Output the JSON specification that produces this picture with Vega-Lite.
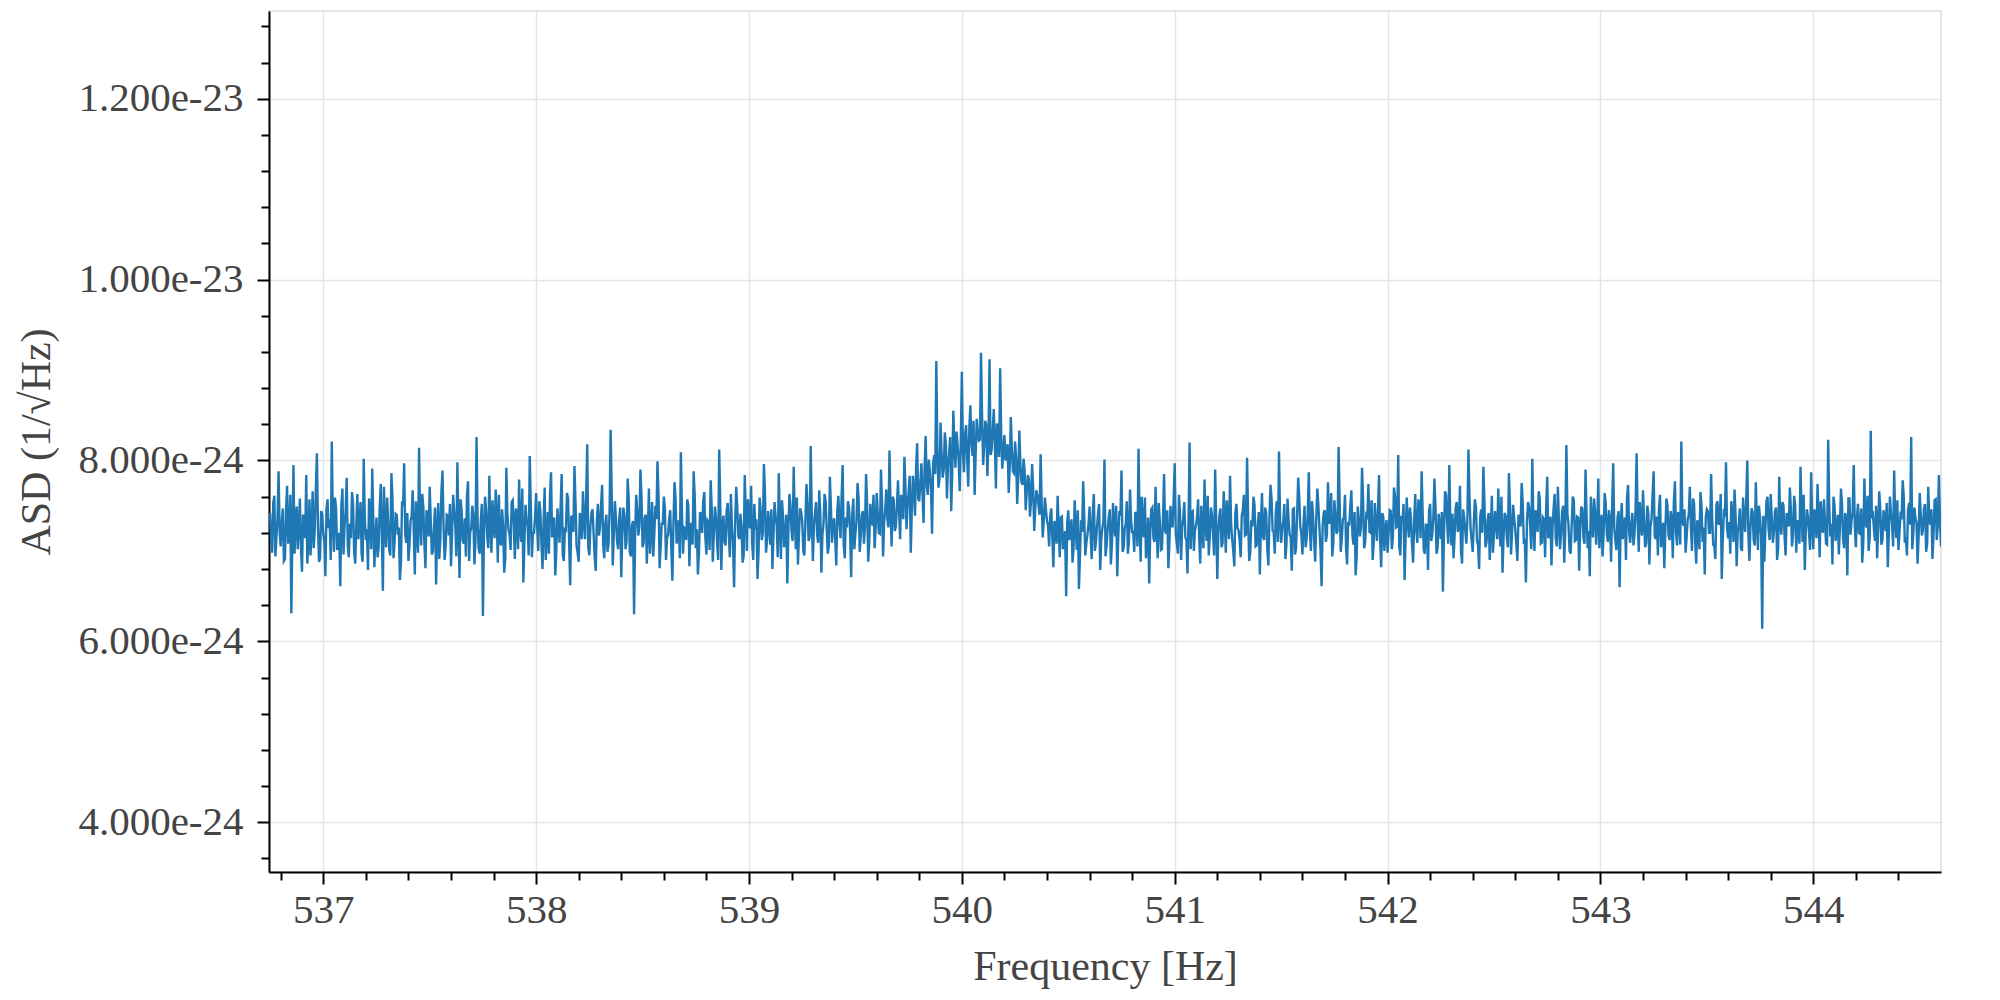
{
  "$schema": "https://vega.github.io/schema/vega-lite/v6.json",
  "width": 1672,
  "height": 861,
  "autosize": "none",
  "padding": {"left": 269, "top": 11, "right": 59, "bottom": 128},
  "background": "white",
  "data": {
    "values": "f,a\n536.75,7.42\n536.76,6.98\n536.77,7.61\n536.78,7.15\n536.79,7.88\n536.80,7.05\n536.81,7.47\n536.82,6.91\n536.83,7.72\n536.84,7.26\n536.85,6.31\n536.86,7.95\n536.87,7.31\n536.88,7.02\n536.89,7.58\n536.90,6.77\n536.91,7.39\n536.92,7.84\n536.93,7.11\n536.94,6.95\n536.95,7.66\n536.96,7.23\n536.97,8.08\n536.98,6.88\n536.99,7.44\n537.00,7.19\n537.01,6.72\n537.02,7.57\n537.03,7.35\n537.04,8.21\n537.05,6.99\n537.06,7.48\n537.07,7.07\n537.08,6.61\n537.09,7.69\n537.10,7.28\n537.11,7.81\n537.12,6.93\n537.13,7.14\n537.14,7.52\n537.15,6.86\n537.16,7.63\n537.17,7.33\n537.18,6.97\n537.19,8.02\n537.20,7.12\n537.21,6.79\n537.22,7.45\n537.23,7.91\n537.24,6.82\n537.25,7.37\n537.26,7.04\n537.27,7.74\n537.28,6.56\n537.29,7.27\n537.30,7.59\n537.31,7.01\n537.32,7.86\n537.33,6.92\n537.34,7.41\n537.35,7.18\n537.36,6.68\n537.37,7.55\n537.38,7.97\n537.39,7.09\n537.40,6.89\n537.41,7.33\n537.42,7.67\n537.43,6.74\n537.44,7.22\n537.45,8.14\n537.46,7.06\n537.47,7.49\n537.48,6.81\n537.49,7.36\n537.50,7.71\n537.51,6.96\n537.52,7.25\n537.53,6.63\n537.54,7.53\n537.55,7.13\n537.56,7.89\n537.57,6.90\n537.58,7.40\n537.59,7.17\n537.60,6.83\n537.61,7.62\n537.62,7.29\n537.63,7.98\n537.64,6.70\n537.65,7.44\n537.66,7.08\n537.67,6.94\n537.68,7.77\n537.69,7.21\n537.70,7.50\n537.71,6.85\n537.72,8.26\n537.73,7.03\n537.74,7.34\n537.75,6.28\n537.76,7.60\n537.77,7.16\n537.78,7.83\n537.79,6.98\n537.80,7.30\n537.81,7.68\n537.82,6.87\n537.83,7.12\n537.84,7.46\n537.85,6.76\n537.86,7.92\n537.87,7.24\n537.88,7.01\n537.89,7.56\n537.90,6.91\n537.91,7.38\n537.92,7.79\n537.93,7.10\n537.94,6.65\n537.95,7.51\n537.96,7.27\n537.97,8.05\n537.98,6.93\n537.99,7.20\n538.00,7.64\n538.01,7.00\n538.02,7.43\n538.03,6.80\n538.04,7.70\n538.05,7.15\n538.06,6.97\n538.07,7.87\n538.08,7.32\n538.09,6.73\n538.10,7.47\n538.11,7.09\n538.12,7.85\n538.13,6.89\n538.14,7.23\n538.15,7.58\n538.16,6.62\n538.17,7.36\n538.18,7.94\n538.19,7.05\n538.20,6.88\n538.21,7.31\n538.22,7.66\n538.23,7.13\n538.24,8.18\n538.25,6.95\n538.26,7.42\n538.27,7.19\n538.28,6.78\n538.29,7.52\n538.30,7.26\n538.31,7.73\n538.32,6.92\n538.33,7.40\n538.34,7.07\n538.35,8.34\n538.36,6.84\n538.37,7.55\n538.38,7.11\n538.39,7.35\n538.40,6.71\n538.41,7.48\n538.42,7.02\n538.43,7.80\n538.44,6.99\n538.45,7.28\n538.46,6.30\n538.47,7.62\n538.48,7.17\n538.49,7.90\n538.50,7.04\n538.51,7.37\n538.52,6.86\n538.53,7.69\n538.54,7.22\n538.55,6.94\n538.56,7.50\n538.57,7.99\n538.58,6.81\n538.59,7.30\n538.60,7.60\n538.61,6.90\n538.62,7.18\n538.63,7.45\n538.64,6.67\n538.65,7.76\n538.66,7.08\n538.67,7.34\n538.68,8.09\n538.69,6.97\n538.70,7.25\n538.71,7.57\n538.72,6.83\n538.73,7.14\n538.74,7.88\n538.75,7.03\n538.76,6.74\n538.77,7.43\n538.78,7.20\n538.79,7.65\n538.80,6.96\n538.81,7.32\n538.82,7.78\n538.83,6.88\n538.84,7.49\n538.85,7.10\n538.86,8.12\n538.87,6.79\n538.88,7.39\n538.89,7.06\n538.90,7.53\n538.91,6.93\n538.92,7.27\n538.93,6.60\n538.94,7.71\n538.95,7.16\n538.96,7.41\n538.97,6.87\n538.98,7.84\n538.99,7.00\n539.00,7.35\n539.01,7.72\n539.02,6.90\n539.03,7.24\n539.04,6.69\n539.05,7.59\n539.06,7.12\n539.07,7.96\n539.08,6.98\n539.09,7.44\n539.10,7.07\n539.11,6.80\n539.12,7.54\n539.13,7.29\n539.14,7.86\n539.15,6.91\n539.16,7.38\n539.17,7.15\n539.18,6.64\n539.19,7.63\n539.20,7.21\n539.21,7.93\n539.22,7.02\n539.23,6.85\n539.24,7.47\n539.25,7.33\n539.26,6.95\n539.27,7.74\n539.28,7.11\n539.29,8.16\n539.30,6.89\n539.31,7.42\n539.32,7.18\n539.33,7.67\n539.34,6.76\n539.35,7.30\n539.36,7.55\n539.37,6.97\n539.38,7.82\n539.39,7.09\n539.40,7.36\n539.41,6.84\n539.42,7.61\n539.43,7.14\n539.44,7.95\n539.45,6.92\n539.46,7.26\n539.47,7.48\n539.48,6.71\n539.49,7.58\n539.50,7.19\n539.51,7.75\n539.52,6.99\n539.53,7.40\n539.54,7.08\n539.55,7.85\n539.56,6.88\n539.57,7.52\n539.58,7.28\n539.59,7.03\n539.60,7.64\n539.61,7.20\n539.62,7.90\n539.63,6.94\n539.64,7.46\n539.65,7.35\n539.66,8.11\n539.67,7.05\n539.68,7.57\n539.69,7.27\n539.70,7.78\n539.71,7.13\n539.72,7.50\n539.73,8.04\n539.74,7.24\n539.75,7.66\n539.76,6.98\n539.77,7.83\n539.78,7.39\n539.79,8.19\n539.80,7.55\n539.81,7.97\n539.82,7.31\n539.83,8.27\n539.84,7.62\n539.85,7.88\n539.86,7.19\n539.87,8.06\n539.88,9.10\n539.89,7.70\n539.90,8.42\n539.91,7.81\n539.92,8.31\n539.93,7.58\n539.94,8.08\n539.95,7.44\n539.96,8.55\n539.97,7.92\n539.98,8.17\n539.99,7.66\n540.00,8.98\n540.01,7.87\n540.02,8.39\n540.03,7.71\n540.04,8.61\n540.05,8.05\n540.06,7.62\n540.07,8.46\n540.08,8.22\n540.09,9.19\n540.10,7.95\n540.11,8.44\n540.12,7.83\n540.13,9.12\n540.14,8.12\n540.15,8.57\n540.16,7.69\n540.17,8.35\n540.18,9.02\n540.19,7.91\n540.20,8.28\n540.21,8.09\n540.22,7.64\n540.23,8.48\n540.24,7.88\n540.25,8.21\n540.26,7.52\n540.27,8.33\n540.28,7.76\n540.29,8.02\n540.30,7.45\n540.31,7.84\n540.32,7.38\n540.33,7.96\n540.34,7.22\n540.35,7.67\n540.36,7.51\n540.37,8.07\n540.38,7.15\n540.39,7.59\n540.40,7.33\n540.41,7.05\n540.42,7.47\n540.43,6.82\n540.44,7.29\n540.45,7.61\n540.46,6.93\n540.47,7.38\n540.48,7.12\n540.49,6.50\n540.50,7.45\n540.51,7.22\n540.52,6.87\n540.53,7.56\n540.54,7.01\n540.55,6.58\n540.56,7.34\n540.57,7.77\n540.58,6.95\n540.59,7.18\n540.60,7.49\n540.61,6.91\n540.62,7.63\n540.63,7.10\n540.64,7.42\n540.65,6.79\n540.66,7.25\n540.67,8.01\n540.68,7.06\n540.69,7.37\n540.70,6.85\n540.71,7.53\n540.72,7.16\n540.73,6.72\n540.74,7.44\n540.75,7.89\n540.76,7.03\n540.77,7.30\n540.78,6.97\n540.79,7.68\n540.80,7.21\n540.81,6.99\n540.82,7.40\n540.83,8.13\n540.84,6.88\n540.85,7.27\n540.86,7.59\n540.87,7.07\n540.88,6.64\n540.89,7.46\n540.90,7.14\n540.91,7.71\n540.92,6.92\n540.93,7.33\n540.94,7.02\n540.95,7.85\n540.96,7.19\n540.97,6.81\n540.98,7.50\n540.99,7.26\n541.00,7.97\n541.01,7.08\n541.02,7.62\n541.03,6.90\n541.04,7.36\n541.05,7.15\n541.06,6.75\n541.07,8.20\n541.08,7.43\n541.09,7.00\n541.10,7.28\n541.11,7.57\n541.12,6.86\n541.13,7.24\n541.14,7.79\n541.15,7.11\n541.16,6.95\n541.17,7.48\n541.18,7.20\n541.19,7.90\n541.20,6.69\n541.21,7.39\n541.22,7.04\n541.23,7.66\n541.24,6.98\n541.25,7.31\n541.26,7.83\n541.27,7.13\n541.28,6.83\n541.29,7.52\n541.30,7.23\n541.31,6.93\n541.32,7.45\n541.33,7.17\n541.34,8.03\n541.35,6.89\n541.36,7.34\n541.37,7.60\n541.38,7.05\n541.39,7.29\n541.40,6.74\n541.41,7.64\n541.42,7.12\n541.43,7.41\n541.44,6.84\n541.45,7.73\n541.46,7.22\n541.47,6.97\n541.48,7.55\n541.49,8.10\n541.50,7.09\n541.51,7.32\n541.52,6.91\n541.53,7.58\n541.54,7.18\n541.55,6.78\n541.56,7.47\n541.57,7.03\n541.58,7.81\n541.59,7.27\n541.60,6.96\n541.61,7.50\n541.62,7.14\n541.63,7.87\n541.64,7.00\n541.65,7.38\n541.66,6.88\n541.67,7.69\n541.68,7.25\n541.69,6.61\n541.70,7.42\n541.71,7.10\n541.72,7.76\n541.73,7.31\n541.74,6.94\n541.75,7.56\n541.76,7.19\n541.77,8.15\n541.78,6.99\n541.79,7.35\n541.80,7.62\n541.81,6.85\n541.82,7.28\n541.83,7.67\n541.84,7.07\n541.85,6.73\n541.86,7.49\n541.87,7.16\n541.88,7.92\n541.89,7.03\n541.90,7.40\n541.91,7.74\n541.92,7.20\n541.93,6.90\n541.94,7.53\n541.95,7.11\n541.96,7.84\n541.97,6.82\n541.98,7.37\n541.99,7.24\n542.00,6.98\n542.01,7.45\n542.02,7.02\n542.03,7.70\n542.04,7.26\n542.05,8.06\n542.06,6.95\n542.07,7.33\n542.08,6.68\n542.09,7.59\n542.10,7.15\n542.11,7.36\n542.12,6.87\n542.13,7.63\n542.14,7.09\n542.15,7.44\n542.16,7.88\n542.17,7.01\n542.18,7.29\n542.19,6.79\n542.20,7.52\n542.21,7.18\n542.22,7.80\n542.23,6.97\n542.24,7.41\n542.25,7.13\n542.26,6.55\n542.27,7.66\n542.28,7.30\n542.29,7.95\n542.30,7.06\n542.31,6.92\n542.32,7.48\n542.33,7.21\n542.34,7.72\n542.35,6.86\n542.36,7.37\n542.37,7.08\n542.38,8.12\n542.39,7.25\n542.40,6.99\n542.41,7.57\n542.42,7.12\n542.43,6.80\n542.44,7.46\n542.45,7.93\n542.46,7.04\n542.47,7.34\n542.48,6.90\n542.49,7.61\n542.50,7.19\n542.51,7.30\n542.52,7.69\n542.53,7.05\n542.54,6.76\n542.55,7.42\n542.56,7.16\n542.57,7.86\n542.58,6.96\n542.59,7.51\n542.60,7.23\n542.61,6.89\n542.62,7.35\n542.63,7.75\n542.64,7.10\n542.65,6.65\n542.66,7.54\n542.67,7.27\n542.68,8.02\n542.69,7.00\n542.70,7.40\n542.71,7.66\n542.72,7.08\n542.73,7.37\n542.74,6.93\n542.75,7.82\n542.76,7.20\n542.77,6.84\n542.78,7.47\n542.79,7.14\n542.80,7.71\n542.81,7.02\n542.82,7.43\n542.83,6.87\n542.84,8.17\n542.85,7.29\n542.86,6.97\n542.87,7.60\n542.88,7.11\n542.89,7.38\n542.90,6.78\n542.91,7.49\n542.92,7.15\n542.93,7.90\n542.94,7.03\n542.95,6.72\n542.96,7.33\n542.97,7.58\n542.98,7.07\n542.99,7.80\n543.00,7.24\n543.01,6.94\n543.02,7.64\n543.03,7.19\n543.04,7.45\n543.05,6.88\n543.06,7.97\n543.07,7.12\n543.08,7.36\n543.09,6.60\n543.10,7.53\n543.11,7.26\n543.12,6.90\n543.13,7.73\n543.14,7.09\n543.15,7.42\n543.16,7.18\n543.17,8.08\n543.18,6.99\n543.19,7.31\n543.20,7.67\n543.21,7.04\n543.22,7.50\n543.23,6.85\n543.24,7.35\n543.25,7.88\n543.26,7.13\n543.27,6.95\n543.28,7.62\n543.29,7.22\n543.30,6.81\n543.31,7.58\n543.32,7.17\n543.33,7.44\n543.34,6.92\n543.35,7.77\n543.36,7.06\n543.37,7.39\n543.38,8.21\n543.39,7.28\n543.40,6.98\n543.41,7.35\n543.42,7.71\n543.43,7.00\n543.44,7.52\n543.45,6.86\n543.46,7.27\n543.47,7.65\n543.48,7.10\n543.49,6.74\n543.50,7.46\n543.51,7.20\n543.52,7.85\n543.53,7.07\n543.54,6.91\n543.55,7.55\n543.56,7.32\n543.57,6.69\n543.58,7.43\n543.59,7.98\n543.60,7.14\n543.61,6.97\n543.62,7.40\n543.63,7.68\n543.64,6.83\n543.65,7.29\n543.66,7.03\n543.67,7.59\n543.68,7.21\n543.69,8.00\n543.70,6.89\n543.71,7.47\n543.72,7.12\n543.73,7.76\n543.74,7.01\n543.75,7.36\n543.76,6.14\n543.77,6.88\n543.78,7.55\n543.79,7.24\n543.80,7.63\n543.81,7.09\n543.82,7.44\n543.83,6.90\n543.84,7.82\n543.85,7.18\n543.86,7.50\n543.87,6.95\n543.88,7.33\n543.89,7.70\n543.90,7.05\n543.91,7.61\n543.92,6.98\n543.93,7.27\n543.94,7.93\n543.95,7.10\n543.96,6.79\n543.97,7.46\n543.98,7.20\n543.99,7.87\n544.00,7.02\n544.01,7.38\n544.02,7.74\n544.03,6.93\n544.04,7.30\n544.05,7.57\n544.06,7.08\n544.07,8.23\n544.08,7.16\n544.09,6.85\n544.10,7.49\n544.11,7.25\n544.12,6.96\n544.13,7.69\n544.14,7.13\n544.15,7.42\n544.16,6.73\n544.17,7.58\n544.18,7.34\n544.19,7.95\n544.20,7.04\n544.21,7.52\n544.22,7.19\n544.23,6.87\n544.24,7.80\n544.25,7.26\n544.26,7.00\n544.27,8.33\n544.28,7.41\n544.29,7.11\n544.30,6.92\n544.31,7.66\n544.32,7.07\n544.33,7.45\n544.34,7.22\n544.35,6.82\n544.36,7.60\n544.37,7.31\n544.38,7.89\n544.39,7.14\n544.40,7.01\n544.41,7.40\n544.42,7.78\n544.43,7.09\n544.44,6.95\n544.45,7.53\n544.46,8.26\n544.47,7.20\n544.48,7.36\n544.49,6.86\n544.50,7.64\n544.51,7.17\n544.52,7.47\n544.53,6.99\n544.54,7.71\n544.55,7.29\n544.56,6.91\n544.57,7.56\n544.58,7.12\n544.59,7.84\n544.60,7.05\n536.755,7.12\n536.765,7.53\n536.775,6.94\n536.785,7.36\n536.795,7.21\n536.805,7.31\n536.815,6.89\n536.825,7.44\n536.835,7.08\n536.845,7.62\n536.855,7.17\n536.865,6.97\n536.875,7.49\n536.885,7.26\n536.895,7.05\n536.905,7.39\n536.915,7.14\n536.925,6.86\n536.935,7.57\n536.945,7.22\n536.955,7.03\n536.965,7.68\n536.975,7.29\n536.985,6.92\n536.995,7.41\n537.005,7.10\n537.015,7.46\n537.025,7.25\n537.035,6.90\n537.045,7.33\n537.055,7.59\n537.065,7.01\n537.075,7.20\n537.085,7.51\n537.095,6.96\n537.105,7.43\n537.115,7.06\n537.125,7.30\n537.135,7.65\n537.145,6.99\n537.155,7.27\n537.165,7.13\n537.175,7.54\n537.185,6.88\n537.195,7.37\n537.205,7.24\n537.215,7.58\n537.225,7.02\n537.235,7.35\n537.245,7.15\n537.255,6.93\n537.265,7.47\n537.275,7.19\n537.285,7.71\n537.295,7.04\n537.305,7.32\n537.315,6.95\n537.325,7.60\n537.335,7.11\n537.345,7.40\n537.355,7.26\n537.365,6.87\n537.375,7.50\n537.385,7.18\n537.395,7.42\n537.405,7.07\n537.415,7.38\n537.425,7.23\n537.435,7.55\n537.445,6.98\n537.455,7.31\n537.465,7.63\n537.475,7.09\n537.485,7.45\n537.495,7.16\n537.505,7.34\n537.515,7.00\n537.525,7.48\n537.535,7.21\n537.545,6.91\n537.555,7.66\n537.565,7.28\n537.575,7.05\n537.585,7.39\n537.595,7.52\n537.605,7.19\n537.615,7.44\n537.625,6.94\n537.635,7.30\n537.645,7.57\n537.655,7.12\n537.665,7.36\n537.675,7.61\n537.685,6.89\n537.695,7.25\n537.705,7.40\n537.715,7.09\n537.725,7.33\n537.735,6.97\n537.745,7.52\n537.755,7.22\n537.765,7.45\n537.775,7.03\n537.785,7.29\n537.795,7.56\n537.805,7.14\n537.815,7.37\n537.825,7.62\n537.835,7.06\n537.845,7.27\n537.855,6.92\n537.865,7.41\n537.875,7.18\n537.885,7.54\n537.895,7.30\n537.905,7.47\n537.915,7.02\n537.925,7.23\n537.935,7.69\n537.945,7.11\n537.955,7.35\n537.965,6.95\n537.975,7.50\n537.985,7.20\n537.995,7.38\n538.005,7.26\n538.015,7.55\n538.025,7.08\n538.035,7.32\n538.045,6.90\n538.055,7.43\n538.065,7.60\n538.075,7.15\n538.085,7.37\n538.095,7.01\n538.105,7.29\n538.115,7.49\n538.125,6.96\n538.135,7.24\n538.145,7.64\n538.155,7.10\n538.165,7.39\n538.175,7.21\n538.185,7.53\n538.195,6.98\n538.205,7.42\n538.215,7.13\n538.225,7.35\n538.235,7.59\n538.245,7.04\n538.255,7.28\n538.265,7.46\n538.275,6.93\n538.285,7.31\n538.295,7.17\n538.305,7.51\n538.315,7.07\n538.325,7.30\n538.335,6.99\n538.345,7.44\n538.355,7.65\n538.365,7.19\n538.375,7.36\n538.385,7.02\n538.395,7.48\n538.405,7.22\n538.415,7.38\n538.425,7.11\n538.435,7.57\n538.445,6.94\n538.455,7.33\n538.465,7.16\n538.475,7.45\n538.485,7.27\n538.495,7.60\n538.505,7.09\n538.515,7.40\n538.525,7.25\n538.535,6.97\n538.545,7.54\n538.555,7.18\n538.565,7.35\n538.575,7.62\n538.585,7.05\n538.595,7.30\n538.605,7.47\n538.615,7.14\n538.625,7.36\n538.635,7.03\n538.645,7.29\n538.655,7.58\n538.665,7.20\n538.675,6.92\n538.685,7.43\n538.695,7.26\n538.705,7.12\n538.715,7.50\n538.725,7.31\n538.735,7.07\n538.745,7.61\n538.755,7.24\n538.765,6.98\n538.775,7.39\n538.785,7.55\n538.795,7.15\n538.805,7.34\n538.815,7.01\n538.825,7.46\n538.835,7.21\n538.845,7.37\n538.855,6.90\n538.865,7.53\n538.875,7.28\n538.885,7.10\n538.895,7.44\n538.905,7.19\n538.915,7.63\n538.925,7.06\n538.935,7.32\n538.945,7.48\n538.955,7.13\n538.965,7.27\n538.975,6.95\n538.985,7.41\n538.995,7.57\n539.005,7.25\n539.015,7.08\n539.025,7.52\n539.035,7.35\n539.045,6.99\n539.055,7.44\n539.065,7.20\n539.075,7.66\n539.085,7.12\n539.095,7.30\n539.105,7.46\n539.115,7.17\n539.125,7.38\n539.135,6.93\n539.145,7.29\n539.155,7.56\n539.165,7.04\n539.175,7.40\n539.185,7.23\n539.195,7.50\n539.205,7.11\n539.215,7.36\n539.225,7.59\n539.235,7.20\n539.245,7.43\n539.255,7.00\n539.265,7.33\n539.275,7.52\n539.285,7.15\n539.295,7.39\n539.305,7.28\n539.315,7.54\n539.325,7.09\n539.335,7.42\n539.345,7.18\n539.355,7.63\n539.365,7.25\n539.375,7.05\n539.385,7.47\n539.395,7.31\n539.405,7.14\n539.415,7.45\n539.425,7.30\n539.435,7.60\n539.445,7.07\n539.455,7.37\n539.465,7.55\n539.475,7.21\n539.485,7.40\n539.495,7.02\n539.505,7.33\n539.515,7.58\n539.525,7.16\n539.535,7.44\n539.545,7.27\n539.555,7.51\n539.565,7.10\n539.575,7.36\n539.585,7.62\n539.595,7.24\n539.605,7.41\n539.615,7.19\n539.625,7.53\n539.635,7.32\n539.645,7.68\n539.655,7.26\n539.665,7.47\n539.675,7.60\n539.685,7.22\n539.695,7.50\n539.705,7.44\n539.715,7.62\n539.725,7.35\n539.735,7.71\n539.745,7.50\n539.755,7.83\n539.765,7.46\n539.775,7.68\n539.785,7.92\n539.795,7.58\n539.805,7.76\n539.815,7.64\n539.825,7.93\n539.835,7.72\n539.845,8.01\n539.855,7.69\n539.865,7.97\n539.875,7.85\n539.885,8.12\n539.895,7.80\n539.905,8.05\n539.915,7.90\n539.925,8.18\n539.935,7.96\n539.945,8.26\n539.955,7.88\n539.965,8.14\n539.975,8.32\n539.985,8.00\n539.995,8.21\n540.005,8.10\n540.015,8.29\n540.025,8.02\n540.035,8.36\n540.045,8.19\n540.055,8.44\n540.065,8.08\n540.075,8.31\n540.085,8.23\n540.095,8.50\n540.105,8.16\n540.115,8.38\n540.125,8.25\n540.135,8.06\n540.145,8.33\n540.155,8.20\n540.165,8.41\n540.175,8.04\n540.185,8.27\n540.195,8.13\n540.205,8.00\n540.215,8.18\n540.225,7.92\n540.235,8.11\n540.245,7.86\n540.255,8.03\n540.265,7.80\n540.275,7.95\n540.285,7.73\n540.295,7.88\n540.305,7.66\n540.315,7.79\n540.325,7.55\n540.335,7.70\n540.345,7.47\n540.355,7.61\n540.365,7.40\n540.375,7.53\n540.385,7.34\n540.395,7.46\n540.405,7.28\n540.415,7.39\n540.425,7.15\n540.435,7.33\n540.445,7.08\n540.455,7.25\n540.465,7.37\n540.475,7.02\n540.485,7.22\n540.495,7.31\n540.505,7.12\n540.515,7.35\n540.525,7.04\n540.535,7.26\n540.545,7.45\n540.555,6.96\n540.565,7.21\n540.575,7.38\n540.585,7.09\n540.595,7.29\n540.605,7.18\n540.615,7.41\n540.625,7.00\n540.635,7.27\n540.645,7.52\n540.655,7.13\n540.665,7.33\n540.675,6.94\n540.685,7.24\n540.695,7.46\n540.705,7.07\n540.715,7.30\n540.725,7.50\n540.735,7.16\n540.745,7.39\n540.755,6.99\n540.765,7.25\n540.775,7.55\n540.785,7.11\n540.795,7.34\n540.805,7.21\n540.815,7.43\n540.825,7.05\n540.835,7.32\n540.845,7.60\n540.855,7.15\n540.865,6.92\n540.875,7.37\n540.885,7.20\n540.895,7.48\n540.905,7.10\n540.915,7.28\n540.925,7.53\n540.935,7.01\n540.945,7.36\n540.955,7.22\n540.965,7.45\n540.975,7.08\n540.985,7.31\n540.995,7.57\n541.005,7.19\n541.015,6.97\n541.025,7.40\n541.035,7.26\n541.045,7.54\n541.055,7.12\n541.065,7.35\n541.075,7.02\n541.085,7.44\n541.095,7.23\n541.105,7.38\n541.115,7.14\n541.125,7.50\n541.135,7.03\n541.145,7.29\n541.155,7.61\n541.165,7.17\n541.175,7.40\n541.185,6.95\n541.195,7.33\n541.205,7.20\n541.215,7.47\n541.225,7.09\n541.235,7.36\n541.245,7.56\n541.255,7.13\n541.265,7.30\n541.275,7.00\n541.285,7.42\n541.295,7.25\n541.305,7.11\n541.315,7.39\n541.325,7.62\n541.335,7.18\n541.345,7.34\n541.355,6.98\n541.365,7.27\n541.375,7.51\n541.385,7.06\n541.395,7.43\n541.405,7.30\n541.415,7.16\n541.425,7.48\n541.435,7.02\n541.445,7.37\n541.455,7.58\n541.465,7.21\n541.475,7.44\n541.485,7.10\n541.495,7.35\n541.505,7.24\n541.515,7.52\n541.525,7.07\n541.535,7.33\n541.545,7.15\n541.555,7.46\n541.565,6.96\n541.575,7.39\n541.585,7.60\n541.595,7.19\n541.605,7.29\n541.615,7.04\n541.625,7.41\n541.635,7.23\n541.645,7.55\n541.655,7.12\n541.665,7.36\n541.675,7.50\n541.685,7.01\n541.695,7.28\n541.705,7.45\n541.715,7.18\n541.725,7.31\n541.735,7.64\n541.745,7.08\n541.755,7.40\n541.765,7.22\n541.775,7.53\n541.785,7.14\n541.795,7.37\n541.805,7.03\n541.815,7.32\n541.825,7.49\n541.835,7.17\n541.845,7.43\n541.855,6.95\n541.865,7.35\n541.875,7.26\n541.885,7.58\n541.895,7.10\n541.905,7.38\n541.915,7.21\n541.925,7.56\n541.935,7.09\n541.945,7.30\n541.955,7.47\n541.965,7.13\n541.975,7.42\n541.985,7.00\n541.995,7.34\n542.005,7.20\n542.015,7.44\n542.025,7.15\n542.035,7.61\n542.045,7.27\n542.055,7.05\n542.065,7.39\n542.075,7.52\n542.085,7.18\n542.095,7.31\n542.105,7.48\n542.115,7.06\n542.125,7.33\n542.135,7.22\n542.145,7.57\n542.155,7.14\n542.165,7.40\n542.175,6.97\n542.185,7.29\n542.195,7.45\n542.205,7.11\n542.215,7.36\n542.225,7.50\n542.235,7.03\n542.245,7.26\n542.255,7.43\n542.265,7.19\n542.275,7.62\n542.285,7.08\n542.295,7.32\n542.305,7.41\n542.315,7.17\n542.325,7.54\n542.335,7.28\n542.345,7.00\n542.355,7.46\n542.365,7.23\n542.375,7.35\n542.385,7.59\n542.395,7.12\n542.405,7.30\n542.415,7.49\n542.425,7.06\n542.435,7.37\n542.445,7.20\n542.455,7.55\n542.465,7.10\n542.475,7.42\n542.485,7.25\n542.495,6.98\n542.505,7.44\n542.515,7.13\n542.525,7.32\n542.535,7.60\n542.545,7.16\n542.555,7.39\n542.565,7.04\n542.575,7.51\n542.585,7.22\n542.595,7.36\n542.605,7.07\n542.615,7.40\n542.625,7.27\n542.635,7.53\n542.645,7.11\n542.655,7.34\n542.665,7.48\n542.675,7.02\n542.685,7.30\n542.695,7.45\n542.705,7.21\n542.715,7.58\n542.725,7.09\n542.735,7.35\n542.745,7.47\n542.755,7.14\n542.765,7.38\n542.775,7.26\n542.785,7.63\n542.795,7.05\n542.805,7.33\n542.815,7.18\n542.825,7.50\n542.835,7.24\n542.845,7.41\n542.855,7.00\n542.865,7.29\n542.875,7.56\n542.885,7.12\n542.895,7.37\n542.905,7.26\n542.915,7.46\n542.925,7.08\n542.935,7.39\n542.945,7.22\n542.955,7.60\n542.965,7.15\n542.975,7.43\n542.985,7.31\n542.995,7.03\n543.005,7.40\n543.015,7.19\n543.025,7.52\n543.035,7.10\n543.045,7.34\n543.055,7.48\n543.065,7.25\n543.075,7.01\n543.085,7.44\n543.095,7.28\n543.105,7.13\n543.115,7.37\n543.125,7.59\n543.135,7.20\n543.145,7.30\n543.155,7.06\n543.165,7.45\n543.175,7.32\n543.185,7.54\n543.195,7.17\n543.205,7.35\n543.215,7.09\n543.225,7.42\n543.235,7.27\n543.245,7.62\n543.255,7.16\n543.265,7.38\n543.275,7.47\n543.285,7.04\n543.295,7.31\n543.305,7.23\n543.315,7.50\n543.325,7.12\n543.335,7.36\n543.345,7.55\n543.355,7.21\n543.365,7.43\n543.375,7.07\n543.385,7.33\n543.395,7.46\n543.405,7.15\n543.415,7.40\n543.425,7.28\n543.435,7.58\n543.445,7.11\n543.455,7.34\n543.465,7.02\n543.475,7.49\n543.485,7.26\n543.495,7.38\n543.505,7.44\n543.515,7.20\n543.525,7.36\n543.535,7.05\n543.545,7.51\n543.555,7.29\n543.565,7.63\n543.575,7.14\n543.585,7.41\n543.595,7.25\n543.605,7.32\n543.615,7.55\n543.625,7.10\n543.635,7.39\n543.645,7.22\n543.655,7.47\n543.665,7.00\n543.675,7.35\n543.685,7.57\n543.695,7.18\n543.705,7.27\n543.715,7.43\n543.725,7.06\n543.735,7.33\n543.745,7.50\n543.755,7.17\n543.765,7.39\n543.775,7.24\n543.785,7.60\n543.795,7.12\n543.805,7.36\n543.815,7.21\n543.825,7.48\n543.835,7.03\n543.845,7.30\n543.855,7.54\n543.865,7.16\n543.875,7.42\n543.885,7.27\n543.895,7.45\n543.905,7.19\n543.915,7.50\n543.925,7.34\n543.935,7.08\n543.945,7.41\n543.955,7.62\n543.965,7.23\n543.975,7.37\n543.985,7.01\n543.995,7.29\n544.005,7.46\n544.015,7.14\n544.025,7.38\n544.035,7.55\n544.045,7.20\n544.055,7.33\n544.065,7.07\n544.075,7.49\n544.085,7.30\n544.095,7.60\n544.105,7.11\n544.115,7.40\n544.125,7.25\n544.135,7.52\n544.145,7.03\n544.155,7.36\n544.165,7.58\n544.175,7.18\n544.185,7.43\n544.195,7.28\n544.205,7.37\n544.215,7.20\n544.225,7.47\n544.235,7.09\n544.245,7.32\n544.255,7.61\n544.265,7.15\n544.275,7.39\n544.285,7.24\n544.295,7.50\n544.305,7.26\n544.315,7.44\n544.325,7.12\n544.335,7.35\n544.345,7.53\n544.355,7.19\n544.365,7.41\n544.375,7.05\n544.385,7.33\n544.395,7.56\n544.405,7.21\n544.415,7.38\n544.425,7.60\n544.435,7.14\n544.445,7.45\n544.455,7.29\n544.465,7.02\n544.475,7.48\n544.485,7.31\n544.495,7.17\n544.505,7.40\n544.515,7.23\n544.525,7.52\n544.535,7.08\n544.545,7.34\n544.555,7.46\n544.565,7.19\n544.575,7.57\n544.585,7.28\n544.595,7.36",
    "format": {"type": "csv", "parse": {"f": "number", "a": "number"}}
  },
  "mark": {"type": "line", "color": "#1f77b4", "strokeWidth": 2.4, "clip": true},
  "encoding": {
    "x": {
      "field": "f",
      "type": "quantitative",
      "sort": "ascending",
      "title": "Frequency [Hz]",
      "scale": {"domain": [536.745, 544.6], "nice": false, "zero": false},
      "axis": {
        "values": [536.8, 537, 537.2, 537.4, 537.6, 537.8, 538, 538.2, 538.4, 538.6, 538.8, 539, 539.2, 539.4, 539.6, 539.8, 540, 540.2, 540.4, 540.6, 540.8, 541, 541.2, 541.4, 541.6, 541.8, 542, 542.2, 542.4, 542.6, 542.8, 543, 543.2, 543.4, 543.6, 543.8, 544, 544.2, 544.4],
        "labelExpr": "abs(datum.value - round(datum.value)) < 0.001 ? format(datum.value, 'd') : ''",
        "tickSize": {"condition": {"test": "abs(datum.value - round(datum.value)) < 0.001", "value": 12}, "value": 8},
        "gridOpacity": {"condition": {"test": "abs(datum.value - round(datum.value)) < 0.001", "value": 1}, "value": 0},
        "labelPadding": 6,
        "titlePadding": 16
      }
    },
    "y": {
      "field": "a",
      "type": "quantitative",
      "title": "ASD (1/√Hz)",
      "scale": {"domain": [3.45, 12.97], "nice": false, "zero": false},
      "axis": {
        "values": [3.6, 4, 4.4, 4.8, 5.2, 5.6, 6, 6.4, 6.8, 7.2, 7.6, 8, 8.4, 8.8, 9.2, 9.6, 10, 10.4, 10.8, 11.2, 11.6, 12, 12.4, 12.8],
        "labelExpr": "abs(datum.value / 2 - round(datum.value / 2)) < 0.001 ? format(datum.value * 1e-24, '.3e') : ''",
        "tickSize": {"condition": {"test": "abs(datum.value / 2 - round(datum.value / 2)) < 0.001", "value": 12}, "value": 8},
        "gridOpacity": {"condition": {"test": "abs(datum.value / 2 - round(datum.value / 2)) < 0.001", "value": 1}, "value": 0},
        "labelPadding": 14,
        "titlePadding": 19
      }
    }
  },
  "config": {
    "view": {"stroke": "#e5e5e5", "strokeWidth": 2},
    "axis": {
      "domainColor": "black",
      "domainWidth": 2,
      "tickColor": "black",
      "tickWidth": 2,
      "gridColor": "#e5e5e5",
      "gridWidth": 1.5,
      "labelFont": "Liberation Serif",
      "labelFontSize": 41,
      "labelColor": "#444444",
      "labelOverlap": false,
      "labelFlush": false,
      "titleFont": "Liberation Serif",
      "titleFontSize": 42,
      "titleFontWeight": "normal",
      "titleColor": "#444444"
    }
  }
}
